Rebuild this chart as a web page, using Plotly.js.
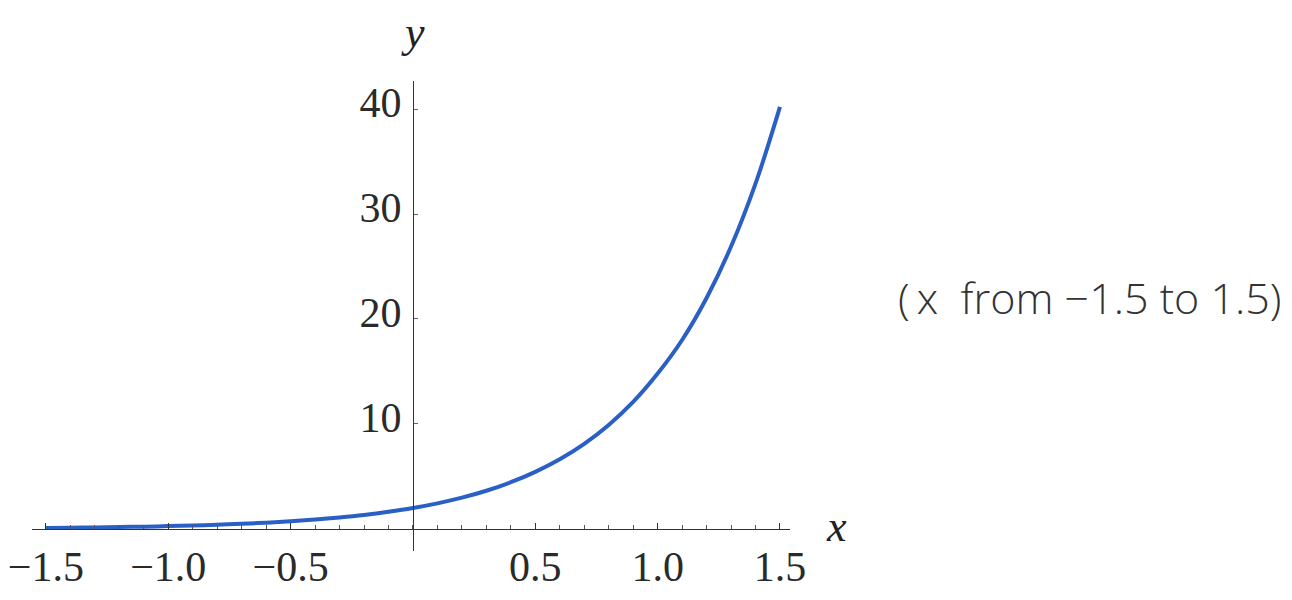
<!DOCTYPE html>
<html>
<head>
<meta charset="utf-8">
<script src="https://cdn.plot.ly/plotly-3.0.1.min.js"></script>
<style>html,body{margin:0;padding:0;background:#fff;}#chart{width:1292px;height:600px;}</style>
</head>
<body>
<div id="chart"></div>
<script>
// values
const xValues = [-1.5,-1.4,-1.3,-1.2,-1.1,-1.0,-0.9,-0.8,-0.7,-0.6,-0.5,-0.4,-0.3,-0.2,-0.1,0.0,0.1,0.2,0.3,0.4,0.5,0.6,0.7,0.8,0.9,1.0,1.1,1.2,1.3,1.4,1.5];
const yValues = [0.10,0.12,0.15,0.18,0.22,0.27,0.33,0.40,0.49,0.60,0.74,0.90,1.10,1.34,1.64,2.00,2.44,2.98,3.64,4.45,5.44,6.64,8.11,9.91,12.1,14.8,18.0,22.0,26.9,32.9,40.2];
const xTickVals = [-1.5,-1.0,-0.5,0.5,1.0,1.5];
const xTickText = ["\u22121.5","\u22121.0","\u22120.5","0.5","1.0","1.5"];
const yTickVals = [10,20,30,40];
const yTickText = ["10","20","30","40"];
const noteText = "(\u2009x  from \u22121.5 to 1.5)";

const xRange = [-1.557, 1.541];
const yRange = [-2.1, 42.67];
const yAxisPos = (0 - xRange[0]) / (xRange[1] - xRange[0]);
const xAxisPos = (0 - yRange[0]) / (yRange[1] - yRange[0]);

const tickFont = {family: "Liberation Serif, Times New Roman, serif", size: 42, color: "#2a2a2a"};

const data = [{
  x: xValues, y: yValues, type: "scatter", mode: "lines",
  line: {color: "#2a5fc6", width: 4, shape: "spline"},
  hoverinfo: "skip"
}];

const layout = {
  width: 1292, height: 600,
  margin: {l: 32, r: 502, t: 81, b: 49, pad: 0},
  paper_bgcolor: "#ffffff", plot_bgcolor: "#ffffff",
  showlegend: false,
  xaxis: {
    range: xRange, domain: [0, 1], anchor: "free", position: xAxisPos,
    showgrid: false, zeroline: false, showline: true, linecolor: "#333", linewidth: 1.2,
    tickmode: "array", tickvals: xTickVals, ticktext: xTickText,
    ticks: "inside", ticklen: 6, tickcolor: "#333", tickwidth: 1,
    minor: {dtick: 0.1, tick0: 0, ticks: "inside", ticklen: 4, tickcolor: "#555", tickwidth: 1, showgrid: false},
    tickfont: tickFont, ticklabelstandoff: 0
  },
  yaxis: {
    range: yRange, domain: [0, 1], anchor: "free", position: yAxisPos,
    showgrid: false, zeroline: false, showline: true, linecolor: "#333", linewidth: 1.2,
    tickmode: "array", tickvals: yTickVals, ticktext: yTickText,
    ticks: "inside", ticklen: 4, tickcolor: "#666", tickwidth: 1,
    tickfont: tickFont, ticklabelstandoff: 3, ticklabelshift: -7
  },
  annotations: [
    {text: "y", xref: "paper", yref: "paper", x: (0.0 - xRange[0]) / (xRange[1] - xRange[0]), y: 1.0, yanchor: "bottom", xanchor: "center", yshift: 22, showarrow: false,
     font: {family: "Liberation Serif, serif", size: 44, color: "#222", style: "italic"}},
    {text: "x", xref: "paper", yref: "paper", x: 1.0, y: xAxisPos, xanchor: "left", yanchor: "middle", xshift: 34, yshift: 2, showarrow: false,
     font: {family: "Liberation Serif, serif", size: 44, color: "#222", style: "italic"}},
    {text: noteText, xref: "paper", yref: "paper", x: 1.0, y: 0.5, xanchor: "left", yanchor: "middle", xshift: 106, yshift: 19, showarrow: false,
     font: {family: "Open Sans, sans-serif", size: 43, color: "#333", weight: 300}}
  ]
};

Plotly.newPlot("chart", data, layout, {displayModeBar: false, staticPlot: true});
</script>
</body>
</html>
